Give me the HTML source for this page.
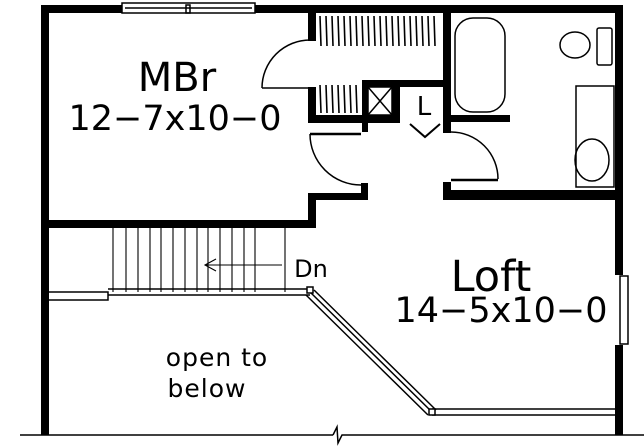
<!DOCTYPE html>
<html><head><style>body{margin:0;background:#fff}svg{display:block}</style></head><body>
<svg width="644" height="448" viewBox="0 0 644 448" xmlns="http://www.w3.org/2000/svg" font-family="'DejaVu Sans','Liberation Sans',sans-serif">
<g fill="#000">
<rect x="41" y="5" width="81" height="8"/>
<rect x="255" y="5" width="368" height="8"/>
<rect x="41" y="5" width="8" height="430"/>
<rect x="615" y="5" width="8" height="270"/>
<rect x="615" y="345" width="8" height="90"/>
<rect x="41" y="220" width="275" height="8"/>
<rect x="308" y="5" width="8" height="36"/>
<rect x="308" y="87" width="8" height="36"/>
<rect x="308" y="115" width="92" height="8"/>
<rect x="362" y="80" width="89" height="7"/>
<rect x="362" y="80" width="6" height="52"/>
<rect x="392" y="80" width="8" height="43"/>
<rect x="443" y="5" width="8" height="128"/>
<rect x="443" y="115" width="67" height="7"/>
<rect x="308" y="194" width="8" height="30"/>
<rect x="308" y="193" width="60" height="7"/>
<rect x="361" y="183" width="7" height="17"/>
<rect x="443" y="182" width="8" height="18"/>
<rect x="443" y="190" width="180" height="10"/>
</g>
<g fill="none" stroke="#000" stroke-width="1.5">
<rect x="122" y="3" width="133" height="10"/>
<line x1="125" y1="8" x2="252" y2="8"/>
<rect x="186" y="5" width="4" height="8"/>
<path d="M262 88 A48 48 0 0 1 310 40"/>
<line x1="262" y1="88" x2="310" y2="88"/>
<path d="M310 134 A51 51 0 0 0 361 185"/>
<line x1="310" y1="134" x2="361" y2="134" stroke-width="2.5"/>
<path d="M451 132 A47 47 0 0 1 498 179"/>
<line x1="451" y1="180" x2="498" y2="180" stroke-width="2.5"/>
<path d="M410 124 L425 137 L440 124" stroke-width="2"/>
<rect x="368" y="87" width="24" height="28"/>
<path d="M368 87 L392 115 M392 87 L368 115"/>
<rect x="455" y="18" width="50" height="94" rx="18"/>
<ellipse cx="575" cy="45" rx="15" ry="13"/>
<rect x="597" y="28" width="15" height="37" rx="2"/>
<rect x="576" y="86" width="38" height="101"/>
<ellipse cx="592" cy="160" rx="17" ry="21"/>
<rect x="620" y="276" width="8" height="68"/>
<line x1="20" y1="435" x2="333" y2="435"/>
<path d="M333 435 L337 427 L338 443 L342 435 L644 435"/>
</g>
<g stroke="#000" stroke-width="1.6">
<path d="M320 16l1 30M326 16l1 30M332 16l1 30M338 16l1 30M344 16l1 30M350 16l1 30M356 16l1 30M362 16l1 30M368 16l1 30M374 16l1 30M380 16l1 30M386 16l1 30M392 16l1 30M398 16l1 30M404 16l1 30M410 16l1 30M416 16l1 30M422 16l1 30M428 16l1 30M434 16l1 30"/>
<path d="M320 85l1 28M326 85l1 28M332 85l1 28M338 85l1 28M344 85l1 28M350 85l1 28M356 85l1 28"/>
</g>
<g stroke="#000" stroke-width="1.1">
<path d="M113 228v64M126 228v64M138 228v64M150 228v64M161 228v64M173 228v64M185 228v64M197 228v64M208 228v64M220 228v64M232 228v64M244 228v64M255 228v64M285 228v64"/>
<line x1="205" y1="265" x2="282" y2="265"/>
<path d="M216 259 L205 265 L216 271" fill="none"/>
</g>
<g fill="none" stroke="#000" stroke-width="1.5">
<path d="M49 292 H108 V300 H49"/>
<path d="M108 289 H310 M108 295 H310"/>
<path d="M310 292 L432 412 M306 295 L428 415 M314 290 L436 410"/>
<path d="M432 409 H615 M432 415 H615"/>
<rect x="307" y="287" width="6" height="6" fill="#fff"/>
<rect x="429" y="409" width="6" height="6" fill="#fff"/>
</g>
<g fill="#000" text-anchor="middle">
<text x="177" y="91" font-size="40">MBr</text>
<text x="175" y="130" font-size="35">12−7x10−0</text>
<text x="491" y="291" font-size="43">Loft</text>
<text x="501" y="322" font-size="35">14−5x10−0</text>
<text x="217" y="366" font-size="25" letter-spacing="1">open to</text>
<text x="207" y="397" font-size="25" letter-spacing="1">below</text>
<text x="311" y="277" font-size="24">Dn</text>
<text x="424" y="115" font-size="26">L</text>
</g>
</svg>
</body></html>
